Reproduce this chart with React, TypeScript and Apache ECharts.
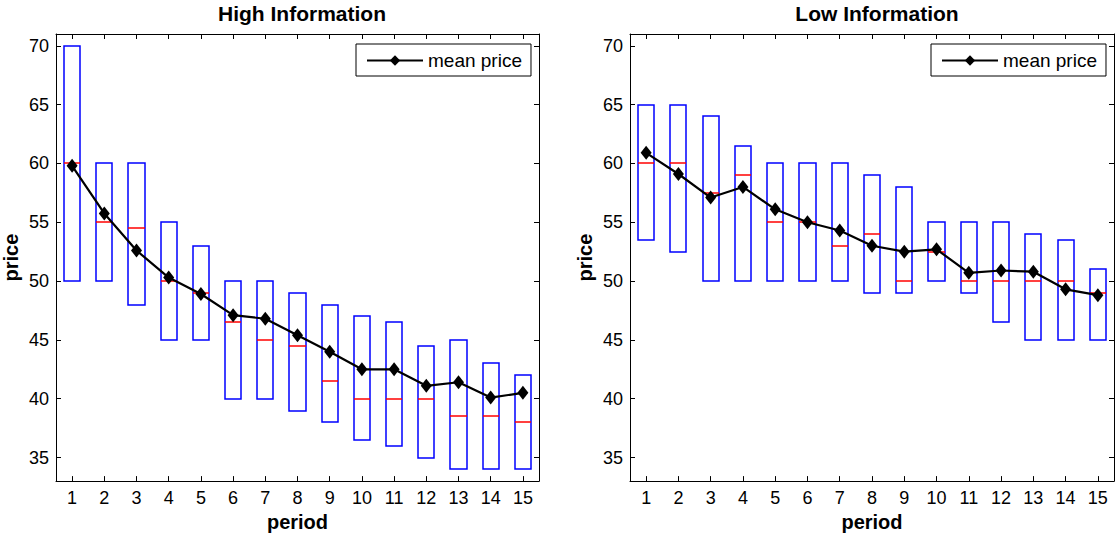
import React, { useEffect, useRef } from "react";
import * as echarts from "echarts";

const periods = ["1", "2", "3", "4", "5", "6", "7", "8", "9", "10", "11", "12", "13", "14", "15"];
const yTicks = [35, 40, 45, 50, 55, 60, 65, 70];

// High Information
const highTop = [70, 60, 60, 55, 53, 50, 50, 49, 48, 47, 46.5, 44.5, 45, 43, 42];
const highBottom = [50, 50, 48, 45, 45, 40, 40, 39, 38, 36.5, 36, 35, 34, 34, 34];
const highMedian = [60, 55, 54.5, 50, 49, 46.5, 45, 44.5, 41.5, 40, 40, 40, 38.5, 38.5, 38];
const highMean = [59.8, 55.75, 52.6, 50.3, 48.9, 47.1, 46.8, 45.4, 44.0, 42.5, 42.5, 41.1, 41.4, 40.1, 40.5];

// Low Information
const lowTop = [65, 65, 64, 61.5, 60, 60, 60, 59, 58, 55, 55, 55, 54, 53.5, 51];
const lowBottom = [53.5, 52.5, 50, 50, 50, 50, 50, 49, 49, 50, 49, 46.5, 45, 45, 45];
const lowMedian = [60, 60, 57.5, 59, 55, 55, 53, 54, 50, 52.5, 50, 50, 50, 50, 49];
const lowMean = [60.9, 59.1, 57.1, 58.0, 56.1, 55.0, 54.3, 53.0, 52.5, 52.7, 50.7, 50.9, 50.8, 49.3, 48.8];

const FONT = "Liberation Sans, Arial, Helvetica, sans-serif";

function boxData(top: number[], bottom: number[], median: number[]) {
  return top.map((t, i) => [i, t, bottom[i], median[i]]);
}

const snap = (v: number) => Math.round(v);

const renderBox = (params: any, api: any) => {
  const idx = api.value(0);
  const top = api.coord([idx, api.value(1)]);
  const bot = api.coord([idx, api.value(2)]);
  const med = api.coord([idx, api.value(3)]);
  const w = api.size([1, 0])[0] * 0.5;
  const x1 = snap(top[0] - w / 2);
  const x2 = snap(top[0] + w / 2);
  const y1 = snap(top[1]);
  const y2 = snap(bot[1]);
  const ym = snap(med[1]);
  return {
    type: "group",
    children: [
      {
        type: "rect",
        shape: { x: x1, y: y1, width: x2 - x1, height: y2 - y1 },
        style: { fill: "none", stroke: "#0000ff", lineWidth: 1.5 },
      },
      {
        type: "line",
        shape: { x1: x1, y1: ym, x2: x2, y2: ym },
        style: { stroke: "#ff0000", lineWidth: 1.5 },
      },
    ],
  };
};

export default function App() {
  const ref = useRef<HTMLDivElement>(null);
  useEffect(() => {
    if (!ref.current) return;
    const chart = echarts.init(ref.current, null, { renderer: "svg" });

    const grids = [
      { left: 55, top: 34, width: 484, height: 454 },
      { left: 630, top: 34, width: 484, height: 454 },
    ];

    const xAxes: any[] = [];
    const yAxes: any[] = [];
    [0, 1].forEach((g) => {
      xAxes.push({
        type: "category",
        gridIndex: g,
        data: periods,
        boundaryGap: true,
        position: "bottom",
        name: "period",
        nameLocation: "middle",
        nameGap: 26,
        nameTextStyle: { fontFamily: FONT, fontSize: 20, fontWeight: "bold", color: "#000" },
        axisLine: { show: true, lineStyle: { color: "#000", width: 1 } },
        axisTick: { show: true, inside: true, alignWithLabel: true, length: 5, lineStyle: { color: "#000" } },
        axisLabel: { show: true, margin: 8, fontFamily: FONT, fontSize: 18, color: "#000", interval: 0 },
        splitLine: { show: false },
      });
      xAxes.push({
        type: "category",
        gridIndex: g,
        data: periods,
        boundaryGap: true,
        position: "top",
        axisLine: { show: true, lineStyle: { color: "#000", width: 1 } },
        axisTick: { show: true, inside: true, alignWithLabel: true, length: 5, lineStyle: { color: "#000" } },
        axisLabel: { show: false },
        splitLine: { show: false },
      });
      yAxes.push({
        type: "value",
        gridIndex: g,
        min: 33,
        max: 71,
        position: "left",
        name: "price",
        nameLocation: "middle",
        nameGap: 35,
        nameTextStyle: { fontFamily: FONT, fontSize: 20, fontWeight: "bold", color: "#000" },
        axisLine: { show: true, lineStyle: { color: "#000", width: 1 } },
        axisTick: { show: true, inside: true, length: 5, customValues: yTicks, lineStyle: { color: "#000" } },
        axisLabel: { show: true, margin: 7, customValues: yTicks, fontFamily: FONT, fontSize: 18, color: "#000" },
        splitLine: { show: false },
      });
      yAxes.push({
        type: "value",
        gridIndex: g,
        min: 33,
        max: 71,
        position: "right",
        axisLine: { show: true, lineStyle: { color: "#000", width: 1 } },
        axisTick: { show: true, inside: true, length: 5, customValues: yTicks, lineStyle: { color: "#000" } },
        axisLabel: { show: false },
        splitLine: { show: false },
      });
    });

    const meanStyle = (data: number[], g: number) => ({
      type: "line",
      name: "mean price",
      xAxisIndex: g * 2,
      yAxisIndex: g * 2,
      data,
      symbol: "diamond",
      symbolSize: [11, 14],
      showSymbol: true,
      lineStyle: { color: "#000", width: 2.2 },
      itemStyle: { color: "#000" },
      z: 5,
    });

    const legendBase = (left: number) => ({
      data: ["mean price"],
      left,
      top: 44,
      orient: "horizontal",
      backgroundColor: "#fff",
      borderColor: "#000",
      borderWidth: 1,
      padding: [7, 9, 6, 10],
      itemWidth: 56,
      itemHeight: 13,
      selectedMode: false,
      textStyle: { fontFamily: FONT, fontSize: 19, color: "#000" },
    });

    chart.setOption({
      animation: false,
      backgroundColor: "#fff",
      title: [
        {
          text: "High Information",
          left: 297,
          top: -2,
          textAlign: "center",
          textStyle: { fontFamily: FONT, fontSize: 21, fontWeight: "bold", color: "#000" },
        },
        {
          text: "Low Information",
          left: 872,
          top: -2,
          textAlign: "center",
          textStyle: { fontFamily: FONT, fontSize: 21, fontWeight: "bold", color: "#000" },
        },
      ],
      legend: [legendBase(356), legendBase(931)],
      grid: grids,
      xAxis: xAxes,
      yAxis: yAxes,
      series: [
        {
          type: "custom",
          xAxisIndex: 0,
          yAxisIndex: 0,
          renderItem: renderBox,
          data: boxData(highTop, highBottom, highMedian),
          encode: { x: 0, y: [1, 2, 3] },
          z: 2,
        },
        meanStyle(highMean, 0),
        {
          type: "custom",
          xAxisIndex: 2,
          yAxisIndex: 2,
          renderItem: renderBox,
          data: boxData(lowTop, lowBottom, lowMedian),
          encode: { x: 0, y: [1, 2, 3] },
          z: 2,
        },
        meanStyle(lowMean, 1),
      ],
    });
    return () => chart.dispose();
  }, []);

  return (
    <div
      ref={ref}
      style={{ position: "fixed", left: 0, top: 0, width: 1116, height: 537, background: "#fff" }}
    />
  );
}
